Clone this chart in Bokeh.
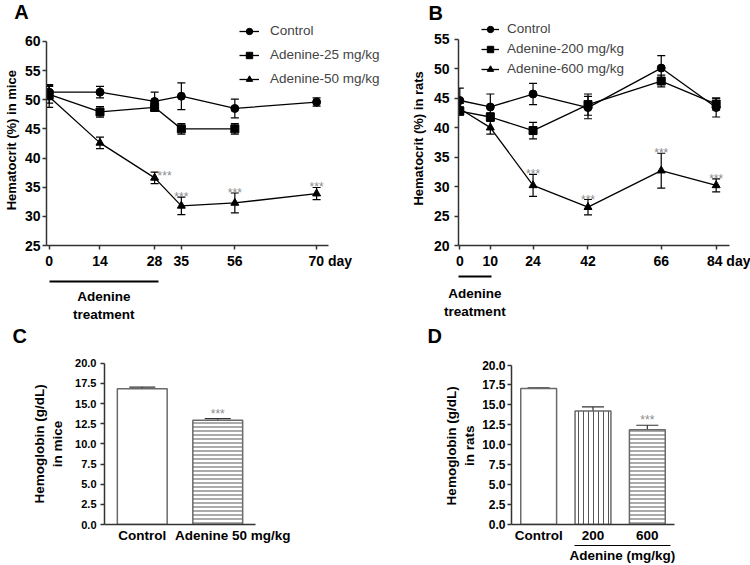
from bokeh.plotting import figure
from bokeh.layouts import column, row
from bokeh.models import (ColumnDataSource, Whisker, TeeHead, Legend, LegendItem, LinearAxis,
                          FixedTicker, NumeralTickFormatter, Range1d)
from bokeh.core.properties import value
from bokeh.embed import file_html
from bokeh.resources import INLINE

FONT = "Liberation Sans"
NB = "\u00a0"

# ---------------- Panel A: hematocrit in mice ----------------
a_day_labels = ["0", "14", "28", "35", "56", "70"]
a_xpos = [0, 13.3, 27.6, 34.6, 48.6, 70]   # drawn positions of the day ticks
a_yticks = [25, 30, 35, 40, 45, 50, 55, 60]
a_control = [51.3, 51.3, 49.7, 50.6, 48.5, 49.6]
a_control_err = [1.3, 1.0, 1.6, 2.3, 1.6, 0.7]
a_ad25 = [50.9, 47.9, 48.7, 45.0, 45.0]
a_ad25_err = [1.5, 0.9, 0.7, 0.9, 0.9]
a_ad50 = [50.5, 42.6, 36.6, 31.8, 32.3, 33.9]
a_ad50_err = [1.8, 1.0, 1.0, 1.5, 1.7, 1.05]
a_ad50_sig = [0, 0, 1, 1, 1, 1]

# ---------------- Panel B: hematocrit in rats ----------------
b_days = [0, 10, 24, 42, 66, 84]
b_yticks = [20, 25, 30, 35, 40, 45, 50, 55]
b_control = [44.6, 43.5, 45.7, 43.4, 50.1, 43.4]
b_control_err = [2.1, 2.2, 1.8, 1.9, 2.1, 1.6]
b_ad200 = [42.8, 41.8, 39.5, 43.9, 47.9, 44.0]
b_ad200_err = [0.7, 0.7, 1.4, 1.8, 1.0, 1.0]
b_ad600 = [43.2, 40.0, 30.2, 26.5, 32.7, 30.2]
b_ad600_err = [0.9, 1.1, 1.85, 1.3, 2.95, 1.1]
b_ad600_sig = [0, 0, 1, 1, 1, 1]

# ---------------- Panel C: hemoglobin in mice ----------------
c_groups = ["Control", "Adenine 50 mg/kg"]
c_hb = [16.85, 12.95]
c_hb_err = [0.2, 0.2]
c_sig = [0, 1]
c_hatch = ["blank", "horizontal_line"]

# ---------------- Panel D: hemoglobin in rats ----------------
d_groups = ["Control", "200", "600"]
d_hb = [17.05, 14.25, 11.9]
d_hb_err = [0.1, 0.5, 0.55]
d_sig = [0, 0, 1]
d_hatch = ["blank", "vertical_line", "horizontal_line"]
hb_ticks = [0, 2.5, 5, 7.5, 10, 12.5, 15, 17.5, 20]

AXC = "#333333"
STAR = "#8c8c8c"


def style_axis(ax, tick_size="14px"):
    ax.axis_line_color = AXC
    ax.axis_line_width = 1.5
    ax.major_tick_line_color = AXC
    ax.major_tick_line_width = 1.5
    ax.major_tick_in = 0
    ax.major_tick_out = 4
    ax.minor_tick_line_color = None
    ax.major_label_text_font = FONT
    ax.major_label_text_font_style = "bold"
    ax.major_label_text_color = "black"
    ax.major_label_text_font_size = tick_size
    ax.axis_label_text_font = FONT
    ax.axis_label_text_font_style = "bold"
    ax.axis_label_text_color = "black"


def base_fig(w, h, xr, yr, bl, br, bt, bb, letter, letter_offset, letter_standoff):
    p = figure(width=w, height=h, x_range=xr, y_range=yr, output_backend="svg",
               toolbar_location=None, title=letter, min_border_left=bl, min_border_right=br,
               min_border_top=bt, min_border_bottom=bb)
    p.title.align = "left"
    p.title.vertical_align = "bottom"
    p.title.offset = letter_offset
    p.title.standoff = letter_standoff
    p.title.text_font = FONT
    p.title.text_font_size = "20px"
    p.title.text_font_style = "bold"
    p.title.text_color = "black"
    p.grid.visible = False
    p.outline_line_color = None
    for ax in p.axis:
        style_axis(ax)
    return p


def add_series(p, x, y, err, marker, size):
    lr = p.line(x, y, line_color="black", line_width=1.3)
    sr = p.scatter(x, y, marker=marker, size=size, fill_color="black", line_color="black")
    src = ColumnDataSource(dict(base=x, lower=[v - e for v, e in zip(y, err)],
                                upper=[v + e for v, e in zip(y, err)]))
    p.add_layout(Whisker(source=src, base="base", lower="lower", upper="upper",
                         line_color="black", line_width=1.2,
                         upper_head=TeeHead(size=8, line_color="black", line_width=1.2),
                         lower_head=TeeHead(size=8, line_color="black", line_width=1.2)))
    return lr, sr


def add_stars(p, x, y, err, sig, xoff, yoff, size="12px"):
    sx = [a for a, s in zip(x, sig) if s]
    sy = [v + e for v, e, s in zip(y, err, sig) if s]
    xo = [o for o, s in zip(xoff, sig) if s]
    yo = [o for o, s in zip(yoff, sig) if s]
    p.text(x=sx, y=sy, text=["***"] * len(sx), x_offset=xo, y_offset=yo,
           text_font=value(FONT), text_font_size=size, text_color=STAR,
           text_align="center", text_baseline="alphabetic")


def legend(p, items, loc, gw, gh, lh, standoff):
    p.add_layout(Legend(items=[LegendItem(label=t, renderers=list(r)) for t, r in items],
                        location=loc, glyph_width=gw, glyph_height=gh, label_height=lh,
                        label_standoff=standoff, spacing=4, padding=0, margin=0,
                        border_line_color=None, background_fill_alpha=0,
                        label_text_font=FONT, label_text_font_size="13.5px"))


def bracket_axis(p, start, end, text, standoff, width=2, size="13.5px"):
    mid = (start + end) / 2
    ax = LinearAxis(bounds=(start, end), ticker=FixedTicker(ticks=[mid]),
                    major_label_overrides={mid: text})
    style_axis(ax, size)
    ax.axis_line_color = "black"
    ax.axis_line_width = width
    ax.major_tick_line_color = None
    ax.major_tick_out = 0
    ax.major_label_standoff = standoff
    p.add_layout(ax, "below")


def spacer_label(ax, standoff):
    # invisible axis title: only adds a few pixels below the tick labels
    ax.axis_label = NB
    ax.axis_label_text_font_size = "1px"
    ax.axis_label_standoff = standoff


# ================= Panel A =================
pA = base_fig(385, 324, Range1d(-0.70, 87.25), Range1d(25, 63.585), 44, 3, 20, 78,
              "A", -32.3, -5)
pA.yaxis.ticker = FixedTicker(ticks=a_yticks)
pA.yaxis.bounds = (a_yticks[0], a_yticks[-1])
pA.xaxis.ticker = FixedTicker(ticks=a_xpos)
pA.xaxis.bounds = (-0.70, 73.2)
a_over = {float(k): v for k, v in zip(a_xpos, a_day_labels)}
a_over[float(a_xpos[-1])] = NB * 7 + a_day_labels[-1] + " day"
pA.xaxis.major_label_overrides = a_over
pA.yaxis.major_label_standoff = 2
pA.xaxis.major_label_standoff = 3
pA.yaxis.axis_label = "Hematocrit (%) in mice" + NB * 4
pA.yaxis.axis_label_text_font_size = "13px"
pA.yaxis.axis_label_standoff = 3
spacer_label(pA.xaxis[0], 6)

rA1 = add_series(pA, a_xpos, a_control, a_control_err, "circle", 8)
rA2 = add_series(pA, a_xpos[:5], a_ad25, a_ad25_err, "square", 8)
rA3 = add_series(pA, a_xpos, a_ad50, a_ad50_err, "triangle", 8)
add_stars(pA, a_xpos, a_ad50, a_ad50_err, a_ad50_sig,
          [0, 0, 10, 0, 0, 0], [0, 0, 4, 0, 0, 0])
legend(pA, [("Control", rA1), ("Adenine-25 mg/kg", rA2), ("Adenine-50 mg/kg", rA3)],
       (193, 156.5), 20, 16, 20, 11)
bracket_axis(pA, a_xpos[0], a_xpos[2] + 1, "Adenine\ntreatment", 7)

# ================= Panel B =================
pB = base_fig(365, 324, Range1d(-0.43, 88.37), Range1d(20, 58.17), 73, 21, 18, 77,
              "B", -30, -7)
pB.yaxis.ticker = FixedTicker(ticks=b_yticks)
pB.yaxis.bounds = (b_yticks[0], b_yticks[-1])
pB.xaxis.ticker = FixedTicker(ticks=b_days)
b_over = {float(d): str(d) for d in b_days}
b_over[float(b_days[-1])] = NB * 7 + str(b_days[-1]) + " day"
pB.xaxis.major_label_overrides = b_over
pB.yaxis.major_label_standoff = 5
pB.xaxis.major_label_standoff = 3
pB.yaxis.axis_label = "Hematocrit (%) in rats" + NB * 3
pB.yaxis.axis_label_text_font_size = "13px"
pB.yaxis.axis_label_standoff = 5
spacer_label(pB.xaxis[0], 1)

rB1 = add_series(pB, b_days, b_control, b_control_err, "circle", 8)
rB2 = add_series(pB, b_days, b_ad200, b_ad200_err, "square", 8)
rB3 = add_series(pB, b_days, b_ad600, b_ad600_err, "triangle", 8)
add_stars(pB, b_days, b_ad600, b_ad600_err, b_ad600_sig, [0] * 6, [0] * 6)
legend(pB, [("Control", rB1), ("Adenine-200 mg/kg", rB2), ("Adenine-600 mg/kg", rB3)],
       (23, 168.5), 18, 16, 16, 8)
bracket_axis(pB, -0.43, b_days[1] + 0.3, "Adenine\ntreatment", 9)


# ================= Bar panels =================
def bar_panel(groups, labels, vals, errs, hatches, scales, sig, y_end, bl, br, bt, bb,
              tick_size, cap, ylabel, tick_standoff, label_standoff, letter, letter_offset):
    n = len(groups)
    xs = [i + 0.5 for i in range(n)]          # one slot per group
    p = base_fig(375, 241, Range1d(0, n), Range1d(0, y_end),
                 bl, br, bt, bb, letter, letter_offset, -5)
    p.yaxis.ticker = FixedTicker(ticks=hb_ticks)
    p.yaxis.bounds = (hb_ticks[0], hb_ticks[-1])
    p.yaxis.formatter = NumeralTickFormatter(format="0.0")
    p.yaxis.major_label_text_font_size = tick_size
    p.yaxis.major_label_standoff = tick_standoff
    p.yaxis.axis_label = ylabel
    p.yaxis.axis_label_text_font_size = "13.5px"
    p.yaxis.axis_label_standoff = label_standoff
    p.xaxis.ticker = FixedTicker(ticks=xs)
    p.xaxis.major_label_overrides = {x: lab for x, lab in zip(xs, labels)}
    p.xaxis.major_tick_line_color = None
    p.xaxis.major_tick_out = 0
    p.xaxis.major_label_standoff = 3
    p.xaxis.major_label_text_font_size = "13.5px"
    src = ColumnDataSource(dict(x=xs, top=vals, hatch=hatches, hs=scales))
    p.vbar(x="x", top="top", width=0.66, source=src, fill_color="white",
           line_color="#6a6a6a", line_width=1.5, hatch_pattern="hatch", hatch_scale="hs",
           hatch_color="#555555", hatch_weight=1.0)
    wsrc = ColumnDataSource(dict(base=xs, lower=vals,
                                 upper=[v + e for v, e in zip(vals, errs)]))
    p.add_layout(Whisker(source=wsrc, base="base", lower="lower", upper="upper",
                         line_color="#333333", line_width=1.2, lower_head=None,
                         upper_head=TeeHead(size=cap, line_color="#333333", line_width=1.2)))
    add_stars(p, xs, vals, errs, sig, [0] * n, [-5] * n)
    return p


pC = bar_panel(c_groups, ["Control", NB * 8 + c_groups[1]], c_hb, c_hb_err, c_hatch,
               [4, 4], c_sig, 22.34, 104, 120, 20, 37, "11px", 26,
               "Hemoglobin (g/dL)" + NB * 5 + "\nin mice" + NB * 5, 4, 7, "C", -92)

pD = bar_panel(d_groups, d_groups, d_hb, d_hb_err, d_hatch, [4, 5, 4], d_sig, 22.58,
               136, 76, 20, 37, "12px", 22,
               "Hemoglobin (g/dL)" + NB * 6 + "\nin rats" + NB * 6, 2, 2, "D", -84)
bracket_axis(pD, 1.16, 2.92, "Adenine (mg/kg)", 2, width=1)

layout = column(row(pA, pB), row(pC, pD))
open("out.html", "w").write(file_html(layout, INLINE))
